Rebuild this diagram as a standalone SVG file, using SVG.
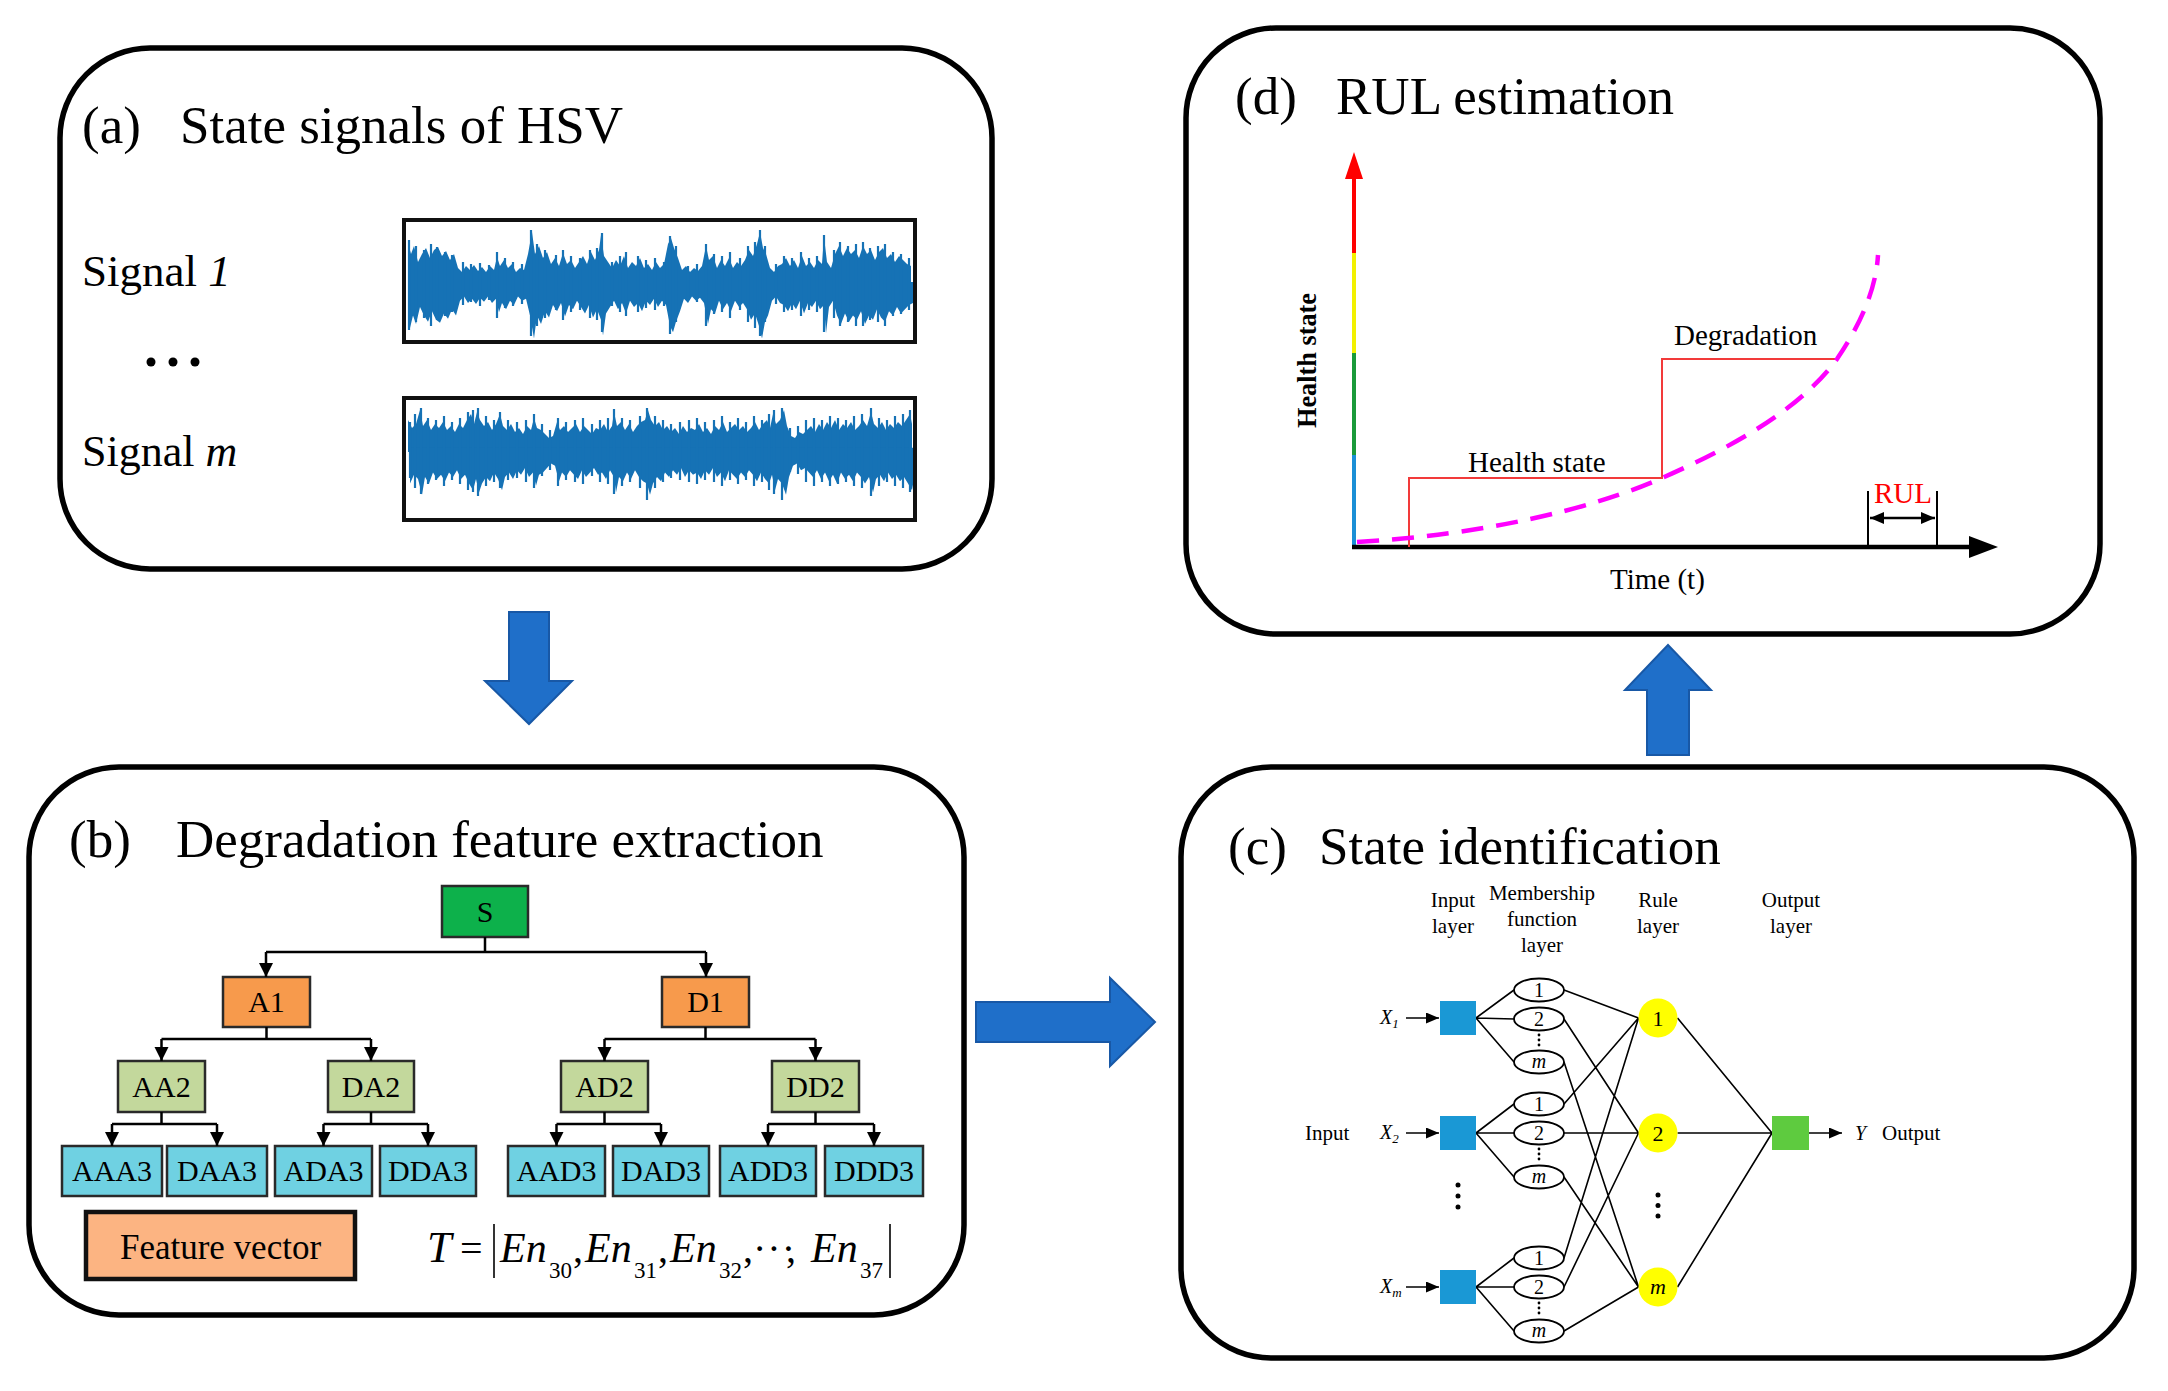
<svg xmlns="http://www.w3.org/2000/svg" xmlns:xlink="http://www.w3.org/1999/xlink" width="2168" height="1391" viewBox="0 0 2168 1391">
<style>
.frame{fill:none;stroke:#000;stroke-width:5.5}
.t{font-family:"Liberation Serif","Times New Roman",serif;fill:#000}
.title{font-size:53px}
.box{stroke:#2a2a2a;stroke-width:2.5}
.bt{font-size:30px;text-anchor:middle}
.ln{fill:none;stroke:#000;stroke-width:2.5}
.nl{fill:none;stroke:#000;stroke-width:1.6}
.blk{fill:#1f6fc9;stroke:#1858a6;stroke-width:2}
.wave{fill:#1672b5}
.spk{fill:none;stroke:#1672b5;stroke-width:2.2}
.sm{font-size:21px}
.mid{text-anchor:middle}
.it{font-style:italic}
.ell{fill:#fff;stroke:#000;stroke-width:1.8}
.rule{fill:#ffff00}
.dot{fill:#000}
</style>
<defs>
<marker id="ah" markerUnits="userSpaceOnUse" markerWidth="16" markerHeight="16" refX="14" refY="7" orient="auto"><path d="M0,0 L14,7 L0,14 Z" fill="#000"/></marker>
<marker id="ahs" markerUnits="userSpaceOnUse" markerWidth="14" markerHeight="12" refX="13" refY="5.5" orient="auto"><path d="M0,0 L13,5.5 L0,11 Z" fill="#000"/></marker>
<marker id="ahr" markerUnits="userSpaceOnUse" markerWidth="16" markerHeight="14" refX="14" refY="6" orient="auto-start-reverse"><path d="M0,0 L14,6 L0,12 Z" fill="#000"/></marker>
<path id="w1" d="M408,284 L408,242 L411,254 L414,246 L418,262 L422,254 L426,248 L430,258 L434,250 L438,247 L442,256 L446,251 L450,260 L454,254 L458,268 L462,272 L466,266 L470,270 L474,265 L478,271 L482,267 L486,272 L490,266 L494,270 L497,257 L500,266 L504,260 L508,268 L512,264 L516,272 L520,268 L524,270 L528,254 L532,232 L535,254 L539,246 L543,258 L547,252 L551,264 L555,258 L559,266 L563,253 L567,264 L571,260 L575,268 L579,262 L583,256 L587,264 L591,252 L595,260 L599,250 L601,235 L604,256 L608,262 L612,268 L616,260 L620,266 L624,256 L628,268 L632,262 L636,266 L640,258 L644,268 L648,264 L652,270 L656,262 L660,268 L664,264 L668,244 L671,238 L674,248 L678,258 L682,270 L686,266 L690,272 L694,268 L698,271 L702,266 L706,246 L709,260 L713,256 L717,268 L721,260 L725,266 L729,258 L733,268 L737,262 L741,266 L745,260 L749,250 L753,256 L757,244 L760,232 L763,248 L766,254 L770,268 L774,272 L778,266 L782,264 L786,258 L790,266 L794,260 L798,268 L802,256 L806,266 L810,262 L814,268 L818,260 L822,264 L824,237 L827,262 L831,268 L835,254 L839,246 L843,256 L847,248 L851,254 L855,250 L859,258 L863,246 L867,254 L871,250 L875,260 L879,252 L883,248 L887,258 L891,254 L895,262 L899,256 L903,260 L907,264 L911,266 L911,286 L408,286 Z"/>
<path id="w2" d="M408,450 L408,420 L412,428 L416,424 L420,410 L423,426 L427,420 L431,430 L435,424 L439,428 L443,422 L447,430 L451,426 L455,432 L459,424 L463,428 L467,420 L471,414 L474,424 L477,412 L480,420 L484,426 L488,422 L492,430 L496,424 L500,414 L503,426 L507,430 L511,424 L515,432 L519,428 L523,434 L527,426 L531,430 L534,418 L537,428 L541,430 L545,434 L549,438 L553,436 L557,422 L560,430 L564,426 L568,432 L572,428 L576,424 L580,432 L584,426 L588,430 L592,434 L596,428 L600,430 L604,424 L608,432 L612,426 L614,412 L617,426 L621,422 L625,430 L629,424 L633,432 L637,426 L641,422 L645,420 L648,410 L651,420 L655,426 L659,422 L663,430 L667,426 L671,432 L675,428 L679,434 L683,426 L687,432 L691,428 L695,430 L699,424 L703,432 L707,428 L711,434 L715,426 L719,430 L723,422 L727,432 L731,428 L735,424 L739,430 L743,426 L747,432 L751,428 L755,422 L759,430 L763,424 L767,420 L770,428 L773,414 L776,424 L780,420 L784,410 L787,426 L791,436 L795,438 L799,432 L803,434 L807,430 L811,426 L815,432 L819,424 L823,430 L827,422 L831,428 L835,420 L839,430 L843,424 L847,428 L851,422 L855,430 L859,426 L863,420 L867,426 L871,412 L874,424 L878,428 L882,422 L886,430 L890,424 L894,428 L898,422 L902,426 L906,420 L910,414 L912,424 L912,452 L408,452 Z"/>
</defs>
<rect width="2168" height="1391" fill="#fff"/>

<!-- Panel (a) -->
<g id="panel-a">
<rect class="frame" x="60" y="48" width="932" height="521" rx="90" ry="90"/>
<text class="t title" x="82" y="143">(a)</text>
<text class="t title" x="180" y="143">State signals of HSV</text>
<text class="t" x="82" y="286" font-size="45">Signal <tspan class="it">1</tspan></text>
<circle class="dot" cx="151" cy="362" r="4.5"/><circle class="dot" cx="173" cy="362" r="4.5"/><circle class="dot" cx="195" cy="362" r="4.5"/>
<text class="t" x="82" y="466" font-size="44">Signal <tspan class="it">m</tspan></text>
<g id="signal-1">
<rect x="404" y="220" width="511" height="122" fill="#fff"/>
<use xlink:href="#w1" class="wave"/>
<use xlink:href="#w1" class="wave" transform="translate(2,0) translate(0,284) scale(1,-1.05) translate(0,-284)"/>
<path class="spk" d="M409,240V330 M416,246V322 M424,250V318 M431,244V326 M437,247V320 M445,252V316 M452,255V312 M463,262V305 M471,264V302 M480,263V306 M489,265V300 M497,252V318 M505,258V308 M513,262V306 M522,264V304 M531,230V336 M537,244V326 M545,250V318 M556,255V310 M563,250V320 M571,256V312 M580,258V310 M590,250V318 M597,248V320 M602,233V332 M612,262V306 M620,256V312 M626,252V316 M638,256V312 M646,260V308 M655,258V310 M664,262V306 M670,236V334 M676,246V322 M688,266V300 M697,264V302 M706,244V326 M714,254V314 M722,256V312 M730,252V318 M740,258V310 M748,246V322 M755,242V328 M760,230V336 M765,246V322 M776,264V304 M784,256V312 M792,258V310 M801,252V316 M809,258V310 M817,256V312 M824,235V332 M834,250V318 M840,242V326 M848,246V322 M856,244V326 M863,242V326 M870,248V320 M878,246V322 M885,244V326 M893,252V316 M901,254V314 M909,258V310"/>
<rect x="404" y="220" width="511" height="122" fill="none" stroke="#111" stroke-width="4"/>
</g>
<g id="signal-m">
<rect x="404" y="398" width="511" height="122" fill="#fff"/>
<use xlink:href="#w2" class="wave"/>
<use xlink:href="#w2" class="wave" transform="translate(2,0) translate(0,450) scale(1,-1.12) translate(0,-450)"/>
<path class="spk" d="M410,422V478 M415,414V488 M421,408V494 M428,418V484 M436,420V480 M444,416V486 M452,422V480 M460,418V484 M468,412V490 M473,410V492 M478,408V496 M486,416V486 M494,420V482 M500,412V488 M508,420V480 M517,422V478 M526,420V482 M534,414V488 M542,424V476 M550,430V470 M558,418V486 M566,422V480 M575,420V482 M583,418V484 M592,424V476 M600,420V482 M608,418V484 M614,409V494 M622,418V486 M630,420V482 M640,416V488 M647,408V500 M655,416V488 M663,420V482 M671,424V478 M680,422V480 M689,420V482 M697,418V484 M705,422V480 M714,420V482 M722,416V486 M730,422V480 M738,418V484 M746,422V480 M754,416V486 M762,420V482 M769,414V490 M774,410V494 M782,408V500 M790,428V472 M798,426V474 M806,420V482 M814,418V486 M822,420V482 M830,416V486 M838,418V484 M846,420V482 M854,416V486 M862,414V488 M871,408V496 M879,418V486 M887,420V482 M895,416V486 M903,414V488 M910,410V492"/>
<rect x="404" y="398" width="511" height="122" fill="none" stroke="#111" stroke-width="4"/>
</g>
</g>

<!-- Panel (b) -->
<g id="panel-b">
<rect class="frame" x="29" y="767" width="935" height="548" rx="90" ry="90"/>
<text class="t title" x="69" y="857">(b)</text>
<text class="t title" x="176" y="857">Degradation feature extraction</text>
</g>
<g id="node-S"><rect class="box" x="442" y="886" width="86" height="51" fill="#0db14b"/><text class="t bt" x="485" y="922">S</text></g>
<g id="node-A1"><rect class="box" x="223" y="977" width="87" height="50" fill="#f79a4c"/><text class="t bt" x="266.5" y="1012">A1</text></g>
<g id="node-D1"><rect class="box" x="662" y="977" width="87" height="50" fill="#f79a4c"/><text class="t bt" x="705.5" y="1012">D1</text></g>
<g id="node-AA2"><rect class="box" x="118" y="1061" width="87" height="51" fill="#c3d89c"/><text class="t bt" x="161.5" y="1097">AA2</text></g>
<g id="node-DA2"><rect class="box" x="328" y="1061" width="86" height="51" fill="#c3d89c"/><text class="t bt" x="371" y="1097">DA2</text></g>
<g id="node-AD2"><rect class="box" x="561" y="1061" width="87" height="51" fill="#c3d89c"/><text class="t bt" x="604.5" y="1097">AD2</text></g>
<g id="node-DD2"><rect class="box" x="772" y="1061" width="87" height="51" fill="#c3d89c"/><text class="t bt" x="815.5" y="1097">DD2</text></g>
<g id="node-AAA3"><rect class="box" x="62" y="1146" width="100" height="50" fill="#6fd1e2"/><text class="t bt" x="112" y="1181">AAA3</text></g>
<g id="node-DAA3"><rect class="box" x="167" y="1146" width="100" height="50" fill="#6fd1e2"/><text class="t bt" x="217" y="1181">DAA3</text></g>
<g id="node-ADA3"><rect class="box" x="275" y="1146" width="97" height="50" fill="#6fd1e2"/><text class="t bt" x="323.5" y="1181">ADA3</text></g>
<g id="node-DDA3"><rect class="box" x="380" y="1146" width="96" height="50" fill="#6fd1e2"/><text class="t bt" x="428" y="1181">DDA3</text></g>
<g id="node-AAD3"><rect class="box" x="508" y="1146" width="97" height="50" fill="#6fd1e2"/><text class="t bt" x="556.5" y="1181">AAD3</text></g>
<g id="node-DAD3"><rect class="box" x="613" y="1146" width="96" height="50" fill="#6fd1e2"/><text class="t bt" x="661" y="1181">DAD3</text></g>
<g id="node-ADD3"><rect class="box" x="720" y="1146" width="96" height="50" fill="#6fd1e2"/><text class="t bt" x="768" y="1181">ADD3</text></g>
<g id="node-DDD3"><rect class="box" x="825" y="1146" width="98" height="50" fill="#6fd1e2"/><text class="t bt" x="874" y="1181">DDD3</text></g>
<g id="feature-vector">
<rect x="86" y="1212" width="269" height="67" fill="#fcb482" stroke="#111" stroke-width="4.5"/>
<text class="t mid" x="220.5" y="1259" font-size="35">Feature vector</text>
</g>
<g id="formula">
<line x1="494" y1="1224" x2="494" y2="1278" stroke="#000" stroke-width="1.6"/>
<line x1="890" y1="1224" x2="890" y2="1278" stroke="#000" stroke-width="1.6"/>
<text class="t" y="1262" font-size="40"><tspan class="it" x="427" font-size="44">T</tspan><tspan x="460">=</tspan><tspan class="it" x="500" font-size="42">En</tspan><tspan x="549" y="1278" font-size="23">30</tspan><tspan x="573" y="1262">,</tspan><tspan class="it" x="585" font-size="42">En</tspan><tspan x="634" y="1278" font-size="23">31</tspan><tspan x="658" y="1262">,</tspan><tspan class="it" x="670" font-size="42">En</tspan><tspan x="719" y="1278" font-size="23">32</tspan><tspan x="743" y="1262">,</tspan><tspan x="753" letter-spacing="1">···</tspan><tspan x="786">,</tspan><tspan class="it" x="811" font-size="42">En</tspan><tspan x="860" y="1278" font-size="23">37</tspan></text>
</g>

<!-- Panel (c) -->
<g id="panel-c">
<rect class="frame" x="1181" y="767" width="953" height="591" rx="90" ry="90"/>
<text class="t title" x="1228" y="864">(c)</text>
<text class="t title" x="1319" y="864">State identification</text>
<text class="t sm mid" x="1453" y="907">Input</text>
<text class="t sm mid" x="1453" y="933">layer</text>
<text class="t sm mid" x="1542" y="900">Membership</text>
<text class="t sm mid" x="1542" y="926">function</text>
<text class="t sm mid" x="1542" y="952">layer</text>
<text class="t sm mid" x="1658" y="907">Rule</text>
<text class="t sm mid" x="1658" y="933">layer</text>
<text class="t sm mid" x="1791" y="907">Output</text>
<text class="t sm mid" x="1791" y="933">layer</text>
<text class="t sm" x="1305" y="1140">Input</text>
<text class="t it" x="1380" y="1024" font-size="20">X<tspan font-size="13" dy="4">1</tspan></text>
<text class="t it" x="1380" y="1139" font-size="20">X<tspan font-size="13" dy="4">2</tspan></text>
<text class="t it" x="1380" y="1293" font-size="20">X<tspan font-size="13" dy="4">m</tspan></text>
<text class="t it" x="1855" y="1140" font-size="20">Y</text>
<text class="t sm" x="1882" y="1140">Output</text>
<circle class="dot" cx="1458" cy="1185" r="2.5"/><circle class="dot" cx="1458" cy="1196" r="2.5"/><circle class="dot" cx="1458" cy="1207" r="2.5"/>
<circle class="dot" cx="1658" cy="1195" r="2.5"/><circle class="dot" cx="1658" cy="1205.5" r="2.5"/><circle class="dot" cx="1658" cy="1216" r="2.5"/>
</g>

<g id="connectors">
<path class="ln" d="M485,937 V952 M266,952 H706"/>
<path class="ln" d="M266,952 V977" marker-end="url(#ah)"/>
<path class="ln" d="M706,952 V977" marker-end="url(#ah)"/>
<path class="ln" d="M266.5,1027 V1039 M161.5,1039 H371 M705.5,1027 V1039 M604.5,1039 H815.5"/>
<path class="ln" d="M161.5,1039 V1061" marker-end="url(#ah)"/>
<path class="ln" d="M371,1039 V1061" marker-end="url(#ah)"/>
<path class="ln" d="M604.5,1039 V1061" marker-end="url(#ah)"/>
<path class="ln" d="M815.5,1039 V1061" marker-end="url(#ah)"/>
<path class="ln" d="M161.5,1112 V1124 M112,1124 H217 M371,1112 V1124 M323.5,1124 H428 M604.5,1112 V1124 M556.5,1124 H661 M815.5,1112 V1124 M768,1124 H874"/>
<path class="ln" d="M112,1124 V1146" marker-end="url(#ah)"/>
<path class="ln" d="M217,1124 V1146" marker-end="url(#ah)"/>
<path class="ln" d="M323.5,1124 V1146" marker-end="url(#ah)"/>
<path class="ln" d="M428,1124 V1146" marker-end="url(#ah)"/>
<path class="ln" d="M556.5,1124 V1146" marker-end="url(#ah)"/>
<path class="ln" d="M661,1124 V1146" marker-end="url(#ah)"/>
<path class="ln" d="M768,1124 V1146" marker-end="url(#ah)"/>
<path class="ln" d="M874,1124 V1146" marker-end="url(#ah)"/>
<!-- network -->
<path class="nl" d="M1406,1018 H1439" marker-end="url(#ahs)"/>
<path class="nl" d="M1406,1133 H1439" marker-end="url(#ahs)"/>
<path class="nl" d="M1406,1287 H1439" marker-end="url(#ahs)"/>
<path class="nl" d="M1809,1133 H1842" marker-end="url(#ahs)"/>
<path class="nl" d="M1476,1018 L1514,990 M1476,1018 L1514,1019 M1476,1018 L1514,1062 M1476,1133 L1514,1104 M1476,1133 L1514,1133 M1476,1133 L1514,1177 M1476,1287 L1514,1258 M1476,1287 L1514,1287 M1476,1287 L1514,1331"/>
<path class="nl" d="M1564,990 L1638.5,1018 M1564,1104 L1638.5,1018 M1564,1258 L1638.5,1018 M1564,1019 L1638.5,1133 M1564,1133 L1638.5,1133 M1564,1287 L1638.5,1133 M1564,1062 L1638.5,1287 M1564,1177 L1638.5,1287 M1564,1331 L1638.5,1287"/>
<path class="nl" d="M1677.5,1018 L1772,1133 M1677.5,1133 L1772,1133 M1677.5,1287 L1772,1133"/>
<!-- block arrows -->
<polygon class="blk" points="509,612 549,612 549,681 572,681 529,724 485,681 509,681"/>
<polygon class="blk" points="976,1002 1110,1002 1110,978 1155,1022 1110,1066 1110,1042 976,1042"/>
<polygon class="blk" points="1647,755 1647,690 1625,690 1668,645 1711,690 1689,690 1689,755"/>
</g>

<g id="input-nodes">
<rect x="1440" y="1001" width="36" height="34" fill="#1a98d5"/>
<rect x="1440" y="1116" width="36" height="34" fill="#1a98d5"/>
<rect x="1440" y="1270" width="36" height="34" fill="#1a98d5"/>
</g>
<g id="mf-nodes">
<ellipse class="ell" cx="1539" cy="990" rx="25" ry="11.5"/><text class="t mid" x="1539" y="997" font-size="20">1</text>
<ellipse class="ell" cx="1539" cy="1019" rx="25" ry="11.5"/><text class="t mid" x="1539" y="1026" font-size="20">2</text>
<ellipse class="ell" cx="1539" cy="1062" rx="25" ry="11.5"/><text class="t mid it" x="1539" y="1068" font-size="20">m</text>
<circle class="dot" cx="1539" cy="1035" r="1.4"/><circle class="dot" cx="1539" cy="1040" r="1.4"/><circle class="dot" cx="1539" cy="1045" r="1.4"/>
<ellipse class="ell" cx="1539" cy="1104" rx="25" ry="11.5"/><text class="t mid" x="1539" y="1111" font-size="20">1</text>
<ellipse class="ell" cx="1539" cy="1133" rx="25" ry="11.5"/><text class="t mid" x="1539" y="1140" font-size="20">2</text>
<ellipse class="ell" cx="1539" cy="1177" rx="25" ry="11.5"/><text class="t mid it" x="1539" y="1183" font-size="20">m</text>
<circle class="dot" cx="1539" cy="1149" r="1.4"/><circle class="dot" cx="1539" cy="1154" r="1.4"/><circle class="dot" cx="1539" cy="1159" r="1.4"/>
<ellipse class="ell" cx="1539" cy="1258" rx="25" ry="11.5"/><text class="t mid" x="1539" y="1265" font-size="20">1</text>
<ellipse class="ell" cx="1539" cy="1287" rx="25" ry="11.5"/><text class="t mid" x="1539" y="1294" font-size="20">2</text>
<ellipse class="ell" cx="1539" cy="1331" rx="25" ry="11.5"/><text class="t mid it" x="1539" y="1337" font-size="20">m</text>
<circle class="dot" cx="1539" cy="1303" r="1.4"/><circle class="dot" cx="1539" cy="1308" r="1.4"/><circle class="dot" cx="1539" cy="1313" r="1.4"/>
</g>
<g id="rule-nodes">
<circle class="rule" cx="1658" cy="1018" r="19.5"/><text class="t mid" x="1658" y="1026" font-size="22">1</text>
<circle class="rule" cx="1658" cy="1133" r="19.5"/><text class="t mid" x="1658" y="1141" font-size="22">2</text>
<circle class="rule" cx="1658" cy="1287" r="19.5"/><text class="t mid it" x="1658" y="1294" font-size="22">m</text>
</g>
<g id="output-node">
<rect x="1772" y="1116" width="37" height="34" fill="#5ecb3f"/>
</g>

<!-- Panel (d) -->
<g id="panel-d">
<rect class="frame" x="1186" y="28" width="914" height="606" rx="90" ry="90"/>
<text class="t title" x="1235" y="114">(d)</text>
<text class="t title" x="1336" y="114">RUL estimation</text>
<line x1="1354" y1="549" x2="1354" y2="455" stroke="#1a8fd6" stroke-width="4"/>
<line x1="1354" y1="455" x2="1354" y2="353" stroke="#1a9a3a" stroke-width="4"/>
<line x1="1354" y1="353" x2="1354" y2="253" stroke="#f2f000" stroke-width="4"/>
<line x1="1354" y1="253" x2="1354" y2="176" stroke="#ff0000" stroke-width="4"/>
<polygon points="1354,152 1345,179 1363,179" fill="#ff0000"/>
<line x1="1352" y1="547" x2="1972" y2="547" stroke="#000" stroke-width="4.5"/>
<polygon points="1998,547 1969,536 1969,558" fill="#000"/>
<polyline points="1409,547 1409,478 1662,478 1662,359 1837,359" fill="none" stroke="#f23a3a" stroke-width="2"/>
<path d="M1357,542 C1480,535 1590,510 1662,478 C1730,448 1800,410 1837,359 C1860,325 1876,290 1878,255" fill="none" stroke="#ff00ff" stroke-width="4.5" stroke-dasharray="22 13"/>
<line x1="1868" y1="491" x2="1868" y2="547" stroke="#000" stroke-width="2"/>
<line x1="1937" y1="491" x2="1937" y2="547" stroke="#000" stroke-width="2"/>
<line x1="1870" y1="518" x2="1935" y2="518" stroke="#000" stroke-width="2.5" marker-start="url(#ahr)" marker-end="url(#ahr)"/>
<text class="t" x="1874" y="503" font-size="29" style="fill:#ff0000">RUL</text>
<text class="t" x="1468" y="472" font-size="29">Health state</text>
<text class="t" x="1674" y="345" font-size="29">Degradation</text>
<text class="t" x="1610" y="589" font-size="29">Time (t)</text>
<text class="t" transform="translate(1316,428) rotate(-90)" font-size="27" font-weight="bold" textLength="135" lengthAdjust="spacingAndGlyphs">Health state</text>
</g>
</svg>
